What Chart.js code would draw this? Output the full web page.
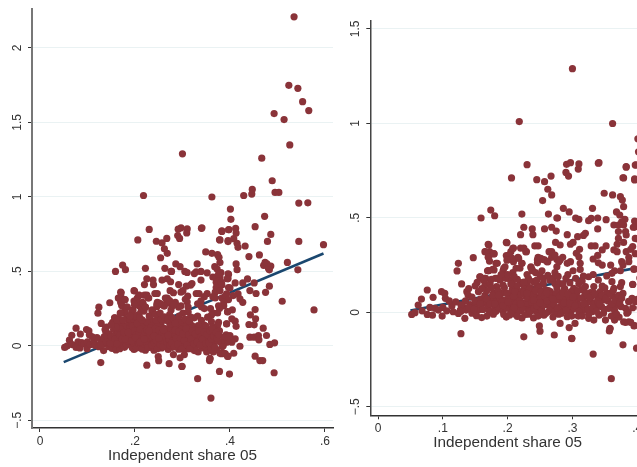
<!DOCTYPE html>
<html><head><meta charset="utf-8">
<script src="https://cdn.jsdelivr.net/npm/chart.js@4"></script>
<style>
html,body{margin:0;padding:0;background:#fff;width:637px;height:467px;overflow:hidden}
.w{position:absolute;top:0}
#a{left:0;width:337px;height:467px}#b{left:337px;width:312px;height:454px}
</style></head><body>
<div class="w" id="a"><canvas id="c1"></canvas></div>
<div class="w" id="b"><canvas id="c2"></canvas></div>
<script>
// Independent share 05 (x), outcome (y)
const outerPoints = [
[.535,2.209],[.524,1.749],[.543,1.729],[.553,1.639],[.566,1.579],[.493,1.559],[.514,1.519],[.526,1.349],[.467,1.26],[.3,1.289],
[.489,1.108],[.447,1.05],[.446,1.019],[.429,1.009],[.495,1.03],[.503,1.03],[.545,.958],[.564,.96],[.362,.999],[.218,1.009],
[.401,.918],[.402,.849],[.473,.869],[.453,.8],[.486,.748],[.412,.788],[.413,.757],[.408,.719],[.398,.78],[.383,.768],
[.378,.712],[.396,.706],[.34,.789],[.545,.701],[.479,.701],[.597,.679],[.432,.67],[.415,.688],[.417,.661],[.44,.599],
[.462,.61],[.413,.55],[.415,.511],[.474,.56],[.471,.54],[.478,.55],[.481,.52],[.486,.535],[.483,.51],[.521,.56],
[.543,.51],[.51,.299],[.577,.241],[.437,.449],[.451,.422],[.483,.4],[.442,.371],[.455,.351],[.475,.359],[.427,.422],
[.411,.422],[.417,.348],[.421,.315],[.427,.292],[.407,.337],[.396,.483],[.396,.451],[.4,.389],[.393,.348],[.405,.241],
[.395,.23],[.453,.243],[.443,.208],[.454,.181],[.44,.143],[.451,.141],[.404,.181],[.411,.165],[.413,.131],[.393,.147],
[.47,.118],[.442,.058],[.451,.058],[.46,.069],[.461,.04],[.477,.069],[.484,.009],[.494,.02],[.387,.058],[.4,.069],
[.411,.047],[.404,.024],[.393,.024],[.386,.002],[.421,-.003],[.453,-.07],[.463,-.099],[.469,-.099],[.493,-.181],[.408,-.05],
[.395,-.072],[.387,-.05],[.379,-.05],[.378,-.172],[.399,-.19],[.332,-.221],[.36,-.351],[.358,-.087],[.299,-.139],[.272,-.12],
[.225,-.13],[.128,-.113],[.25,-.1],[.249,-.072]
];
const upperPoints = [
[.23,.781],[.206,.711],[.245,.702],[.257,.691],[.267,.721],[.262,.651],[.268,.621],[.254,.591],[.174,.541],[.18,.511],
[.159,.499],[.222,.52],[.263,.52],[.277,.499],[.225,.45],[.238,.441],[.257,.441],[.268,.45],[.275,.43],[.22,.411],
[.239,.411],[.198,.37],[.274,.37],[.17,.36],[.242,.351],[.247,.351],[.209,.34],[.165,.321],[.172,.321],[.179,.31],
[.205,.321],[.228,.321],[.264,.321],[.198,.3],[.17,.291],[.216,.291],[.204,.28],[.247,.291],[.268,.291],[.276,.28],
[.246,.262],[.254,.28],[.261,.268],[.172,.271],[.182,.259],[.209,.268],[.222,.259],[.196,.241],[.213,.233],[.219,.233],
[.236,.241],[.276,.241],[.17,.22],[.177,.227],[.193,.22],[.208,.21],[.238,.22],[.273,.21],[.25,.197],[.232,.18],
[.165,.18],[.181,.18],[.2,.18],[.16,.18],[.188,.171],[.22,.157],[.265,.171],[.255,.153],[.24,.162],[.165,.144],
[.173,.153],[.183,.136],[.193,.144],[.209,.144],[.23,.144],[.245,.144],[.273,.153],[.178,.1],
[.297,.792],[.291,.783],[.31,.785],[.309,.758],[.341,.792],[.29,.74],[.294,.721],[.383,.771],[.397,.779],[.379,.711],
[.396,.7],[.349,.63],[.362,.621],[.374,.612],[.377,.594],[.379,.559],[.286,.55],[.295,.531],[.331,.55],[.368,.531],
[.373,.515],[.276,.499],[.305,.499],[.31,.492],[.339,.499],[.352,.49],[.329,.497],[.325,.485],[.381,.492],[.397,.479],
[.364,.462],[.371,.462],[.379,.462],[.376,.479],[.394,.45],[.339,.441],[.371,.427],[.382,.427],[.32,.418],[.292,.411],
[.317,.407],[.308,.4],[.371,.391],[.383,.409],[.397,.391],[.301,.37],[.297,.36],[.369,.36],[.379,.37],[.329,.351],
[.335,.351],[.352,.351],[.346,.33],[.311,.333],[.306,.312],[.364,.33],[.369,.321],[.383,.321],[.39,.333],[.397,.31],
[.339,.301],[.31,.294],[.285,.291],[.332,.282],[.387,.291],[.387,.268],[.376,.268],[.279,.268],[.297,.268],[.292,.259],
[.34,.262],[.346,.25],[.312,.259],[.359,.25],[.378,.25],[.395,.227],[.301,.22],[.312,.227],[.365,.22],[.374,.22],
[.332,.2],[.325,.188],[.317,.192],[.29,.18],[.361,.206],[.34,.171],[.353,.192],[.279,.153],[.296,.157],[.31,.153],
[.376,.157],[.361,.162],[.393,.148],[.346,.139],[.374,.136],[.333,.136],[.32,.136],[.302,.127],[.364,.127],[.287,.118],
[.307,.109],[.328,.104],[.343,.109],[.353,.1],[.392,.074],[.387,.056],[.382,.021],[.384,-.005],[.397,.056],[.369,.038],
[.359,.03],[.348,.065],[.338,.03],[.328,.056],[.317,.074],[.307,.065],[.297,.082],[.289,.056],[.281,.03],[.286,.012],
[.299,.012],[.312,-.005],[.292,-.023],[.281,-.059],[.304,-.059],[.295,-.081],[.325,-.032],[.333,-.041],[.341,-.015],[.351,-.041],
[.365,-.041],[.358,-.085],[.357,-.099],[.382,-.053],[.39,-.053],[.396,-.07],[.299,-.138],[.348,-.005],[.33,.003],[.32,.03],
[.122,.219],[.124,.259],[.129,.15],[.171,.356],[.166,.32],[.171,.294],[.179,.309],[.147,.289],[.199,.368],[.208,.338],
[.202,.303],[.207,.285],[.199,.276],[.217,.285],[.222,.259],[.229,.321],[.184,.259],[.179,.224],[.171,.22],[.194,.233],
[.158,.188],[.166,.18],[.184,.18],[.189,.18],[.197,.18],[.207,.171],[.22,.153],[.233,.171],[.236,.236],[.238,.224],
[.246,.277],[.251,.286],[.257,.277],[.262,.268],[.268,.321],[.273,.303],[.281,.277],[.22,.34],[.225,.34],[.281,.356]
];
const leftCluster = [
[.052,-.011],[.057,-.002],[.062,.038],[.067,.07],[.076,.118],[.085,.079],[.068,.008],[.08,.026],[.076,-.011],[.084,-.015],
[.088,.021],[.093,.012],[.098,.109],[.103,.1],[.104,.074],[.1,.026],[.099,-.02],[.106,.008],[.114,.033],[.116,.003],
[.127,.012],[.124,-.006],[.134,-.032],[.132,.026],[.137,.109],[.14,.126],[.139,.091],[.136,.012],[.142,.041],[.145,-.005],
[.15,.03],[.155,.012],[.152,-.018],[.16,-.028],[.168,-.02],[.155,.109],[.157,.188],[.153,.158],[.163,.17],[.169,.22],
[.145,.08],[.15,.06],[.158,.07],[.163,.05],[.165,.09],[.17,.03],[.175,.06],[.172,.005],[.18,.02],[.178,-.01],
[.183,.07],[.187,.04],[.19,.1],[.192,.01],[.195,.065],[.198,-.025],[.2,.035],[.204,.09],[.205,.005],[.207,.12],
[.21,.055],[.212,-.01],[.214,.03],[.216,.08],[.218,.11],[.22,.01],[.222,-.03],[.224,.05],[.226,.125],[.228,.085],
[.23,.02],[.232,-.01],[.234,.065],[.236,.105],[.238,.035],[.24,-.03],[.242,.085],[.244,.005],[.246,.055],[.248,.13],
[.25,.025],[.252,.095],[.254,.06],[.256,-.015],[.258,.12],[.26,.04],[.262,.08],[.264,.005],[.266,.11],[.268,.055],
[.27,-.025],[.272,.09],[.274,.025],[.276,.13],[.278,.065],[.279,-.01],[.282,.1],[.284,.04],[.288,.125],[.291,.075],
[.294,.03],[.295,-.005],[.298,.11],[.3,.05],[.303,.02],[.306,.09],[.309,-.02],[.311,.04],[.314,.12],[.316,.01],
[.319,.09],[.322,.05],[.325,-.01],[.33,.085],[.335,.05],[.34,.08],[.345,.03],[.35,.13],[.355,.06],[.36,-.02],
[.362,.085],[.365,.01],[.37,.07],[.372,-.025],[.375,.03],[.378,.1],[.135,.06],[.128,.04],[.12,.055],[.11,.06],
[.185,.115],[.175,.13],[.168,.115],[.16,.125],[.195,.13],[.215,.14],[.205,.15],[.225,.16],[.235,.13],[.245,.17],
[.255,.18],[.215,.175],[.23,.2],[.243,.21],[.253,.22],[.262,.195],[.27,.18],[.278,.19],[.285,.15],[.293,.2],
[.305,.18],[.315,.165],[.2,.2],[.21,.19],[.19,.2],[.175,.175],[.15,.14],[.205,.06],[.23,.045],[.25,.075],[.265,.03],[.285,.07]
];
const denseBand = [
[.128,.005],[.14,.025],[.148,.015],[.158,.045],[.162,.015],[.168,.07],[.173,.045],[.177,.09],[.182,.005],[.185,.03],
[.188,.075],[.191,.055],[.194,-.012],[.197,.02],[.199,.1],[.202,.07],[.203,-.015],[.206,.04],[.208,.015],[.209,.085],
[.211,.11],[.213,.045],[.215,-.022],[.217,.015],[.219,.065],[.221,.095],[.223,.025],[.225,.105],[.227,-.012],[.229,.05],
[.231,.075],[.233,.12],[.235,.005],[.237,.055],[.239,.09],[.241,.02],[.243,.115],[.245,.035],[.247,-.02],[.249,.07],
[.251,.105],[.253,.01],[.255,.04],[.257,.085],[.259,-.005],[.261,.06],[.263,.115],[.265,.095],[.267,.025],[.269,.075],
[.271,.045],[.273,.005],[.275,.1],[.277,.02],[.28,.085],[.283,-.005],[.285,.105],[.287,.05],[.29,.01],[.293,.095],
[.296,.05],[.299,-.02],[.301,.08],[.304,.035],[.308,.115],[.31,.005],[.313,.075],[.315,-.02],[.318,.045],[.321,.1],
[.324,.015],[.327,.08],[.331,.025],[.334,.1],[.337,.005],[.339,.06],[.342,.045],[.346,.09],[.349,.015],[.352,.075],
[.356,.02],[.358,.1],[.361,.045],[.363,.115],[.366,.065],[.368,-.01],[.371,.09],[.373,.05],[.376,.075],[.18,.045],
[.186,.09],[.193,.035],[.201,.055],[.21,.025],[.22,.045],[.23,.1],[.24,.065],[.25,.05],[.26,.105],[.27,.07]
];
const points05 = outerPoints.concat(upperPoints, leftCluster, denseBand);
const fitLeftX = [.05,.597];
const fitLeftY = [-.11,.62];
const fitRightX = [.05,.412];
const fitRightY = [.01,.243];
const leftXTicks = [0,.2,.4,.6];
const rightXTicks = [0,.1,.2,.3,.4];
const leftYTicks = [-.5,0,.5,1,1.5,2];
const rightYTicks = [-.5,0,.5,1,1.5];
const xTitle = 'Independent share 05';

const FONT = '"Liberation Sans", Arial, sans-serif';
const fmt = v => { if (v === 0) return '0';
  const s = String(Math.abs(v)).replace(/^0\./, '.');
  return (v < 0 ? '\u2212' : '') + s; };
function make(id, o) {
  new Chart(document.getElementById(id), {
    data: { datasets: [
      { type:'scatter', data: points05.map(p => ({x:p[0], y:p[1]})), backgroundColor:'#8a3339', borderWidth:0, pointRadius:3.6, order:1 },
      { type:'line', data: o.fx.map((x,i) => ({x, y:o.fy[i]})), borderColor:'#1a476f', borderWidth:2.6, pointRadius:0, fill:false, order:2 }
    ]},
    options: {
      responsive:true, maintainAspectRatio:false, animation:false,
      layout:{ padding:{ top:o.top, right:4, left:0, bottom:0 } },
      plugins:{ legend:{display:false}, tooltip:{enabled:false} },
      scales:{
        x:{ type:'linear', min:o.xmin, max:o.xmax,
          afterBuildTicks: s => { s.ticks = o.xt.map(v => ({value:v})); },
          afterFit: s => { s.height = o.bottom; },
          border:{ color:'#333', width:1.5 },
          grid:{ drawOnChartArea:false, color:'#333', tickLength:4, tickWidth:1 },
          ticks:{ color:'#333', font:{family:FONT,size:12}, padding:2, maxRotation:0, callback:fmt },
          title:{ display:true, text:xTitle, color:'#333', font:{family:FONT,size:15.3}, padding:{top:0,bottom:2} }
        },
        y:{ type:'linear', min:o.ymin, max:o.ymax,
          afterBuildTicks: s => { s.ticks = o.yt.map(v => ({value:v})); },
          afterFit: s => { s.width = o.left; },
          border:{ color:o.axisColor, width:o.axisWidth },
          grid:{ color:'#eaf2f3', lineWidth:1, tickColor:'#333', tickLength:4, tickWidth:1 },
          ticks:{ color:'#333', font:{family:FONT,size:12}, padding:2, minRotation:90, maxRotation:90, crossAlign:'center', callback:fmt }
        }
      }
    }
  });
}
make('c1', { left:32, top:8, bottom:39, xmin:-.0168, xmax:.617, ymin:-.552, ymax:2.26,
  xt:leftXTicks, yt:leftYTicks, fx:fitLeftX, fy:fitLeftY, axisColor:'#777', axisWidth:2 });
make('c2', { left:33.3, top:20.7, bottom:38.7, xmin:-.0119, xmax:.412, ymin:-.545, ymax:1.543,
  xt:rightXTicks, yt:rightYTicks, fx:fitRightX, fy:fitRightY, axisColor:'#444', axisWidth:1.5 });
</script>
</body></html>
